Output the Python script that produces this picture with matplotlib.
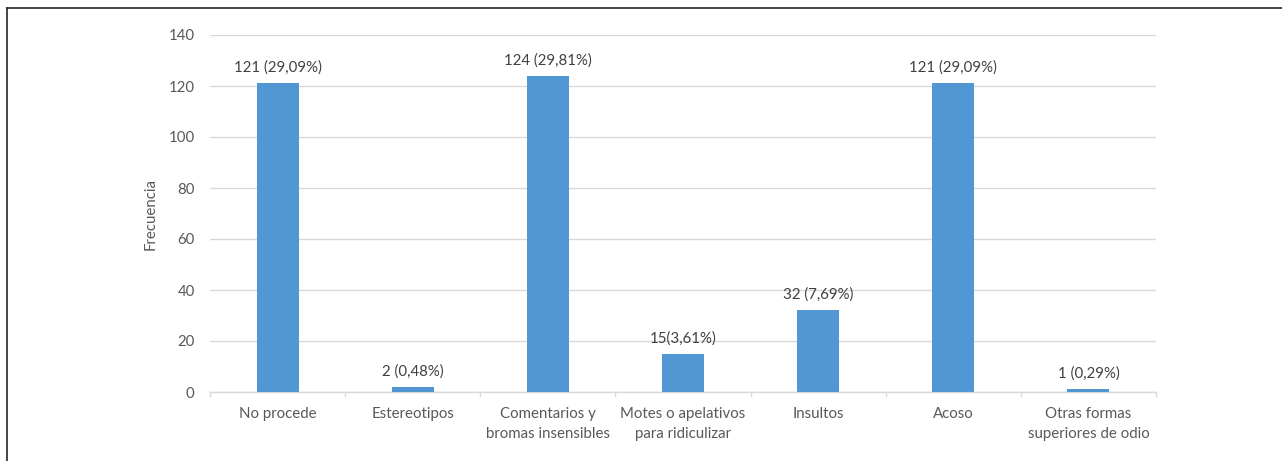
import matplotlib
matplotlib.use("Agg")
import matplotlib.pyplot as plt
from matplotlib.lines import Line2D

plt.rcParams['font.family'] = ['Lato', 'DejaVu Sans']

categories = ["No procede", "Estereotipos", "Comentarios y\nbromas insensibles",
              "Motes o apelativos\npara ridiculizar", "Insultos", "Acoso",
              "Otras formas\nsuperiores de odio"]
values = [121, 2, 124, 15, 32, 121, 1]
labels = ["121 (29,09%)", "2 (0,48%)", "124 (29,81%)", "15(3,61%)",
          "32 (7,69%)", "121 (29,09%)", "1 (0,29%)"]
yticks = [0, 20, 40, 60, 80, 100, 120, 140]

text_color = "#595959"
grid_color = "#d9d9d9"
bar_color = "#5097d3"
fs = 10.8

fig = plt.figure(figsize=(12.82, 4.61), dpi=100)
ax = fig.add_axes([210/1282, 1 - 392/461, (1156-210)/1282, (392-35)/461])

x = list(range(len(categories)))
ax.bar(x, values, width=0.31, color=bar_color, zorder=3)
for xi, v, lab in zip(x, values, labels):
    ax.annotate(lab, (xi, v), xytext=(0, 6), textcoords="offset points",
                ha="center", va="bottom", fontsize=fs, color="#404040")

ax.set_xlim(-0.5, len(categories) - 0.5)
ax.set_ylim(0, 140)
ax.set_yticks(yticks)
ax.set_yticklabels([str(t) for t in yticks], fontsize=fs, color=text_color)
ax.yaxis.grid(True, color=grid_color, linewidth=1, zorder=0)
ax.tick_params(axis='y', length=0, pad=11)

ax.set_xticks(x)
ax.set_xticklabels(categories, fontsize=fs, color=text_color, linespacing=1.55)
ax.tick_params(axis='x', length=0, pad=11)
for b in [i - 0.5 for i in range(len(categories) + 1)]:
    ax.plot([b, b], [0, -0.012], transform=ax.get_xaxis_transform(),
            color=grid_color, linewidth=1, clip_on=False)

for s in ["top", "right", "left"]:
    ax.spines[s].set_visible(False)
ax.spines["bottom"].set_color(grid_color)
ax.spines["bottom"].set_linewidth(1)

ax.set_ylabel("Frecuencia", fontsize=fs, color=text_color, labelpad=8)

fig.add_artist(Line2D([6.5/1282, 6.5/1282], [0, 1 - 8/461], color="#262626",
                      linewidth=1.2, transform=fig.transFigure))
fig.add_artist(Line2D([6.5/1282, 1], [1 - 8/461, 1 - 8/461], color="#262626",
                      linewidth=1.2, transform=fig.transFigure))

fig.savefig("out.png", dpi=100)
